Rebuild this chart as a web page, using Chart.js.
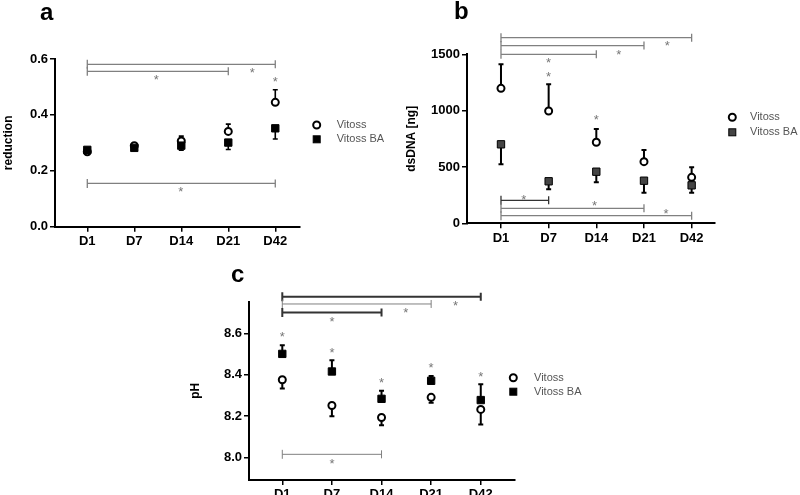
<!DOCTYPE html>
<html><head><meta charset="utf-8">
<script src="https://cdn.jsdelivr.net/npm/chart.js@4.4.0/dist/chart.umd.min.js"></script>
<style>
html,body{margin:0;padding:0;background:#fff;}
#wrap{position:relative;width:800px;height:495px;overflow:hidden;background:#fff;}
canvas{position:absolute;left:0;top:0;}
.lbl{position:absolute;font:bold 24px "Liberation Sans",Arial,sans-serif;line-height:24px;color:#000;}
</style></head><body>
<div id="wrap">
<canvas id="ca" width="800" height="495"></canvas>
<canvas id="cb" width="800" height="495"></canvas>
<canvas id="cc" width="800" height="495"></canvas>
<div class="lbl" style="left:40px;top:0px">a</div>
<div class="lbl" style="left:454px;top:-1px">b</div>
<div class="lbl" style="left:231px;top:262px">c</div>
</div>
<script>
const FONT = '"Liberation Sans", Arial, sans-serif';
const cats = ['D1','D7','D14','D21','D42'];
const xPos = [0,1,2,3,4];
const seriesNames = ['Vitoss','Vitoss BA'];

// Panel a : reduction
const aVitoss    = [0.268,0.290,0.307,0.341,0.445];
const aVitossErr = [0.000,0.004,0.017,0.026,0.045];
const aBA        = [0.275,0.282,0.290,0.301,0.352];
const aBAErr     = [0.000,0.003,0.016,0.025,0.038];
const aTicks     = [0,0.2,0.4,0.6];
const aBrackets  = [[0,4,0.581,'#808080'],[0,3,0.556,'#808080'],[0,4,0.155,'#808080']];
const aStars     = [[3.51,0.564],[1.47,0.538],[4,0.532],[1.99,0.138]];

// Panel b : dsDNA [ng]
const bVitoss    = [1198,997,719,547,408];
const bVitossErr = [213,237,118,104,89];
const bBA        = [701,373,458,378,337];
const bBAErr     = [177,71,94,106,65];
const bTicks     = [0,500,1000,1500];
const bBrackets  = [[0,4,1648,'#808080'],[0,3,1577,'#808080'],[0,2,1500,'#808080'],
                    [0,1,204,'#333333'],[0,3,133,'#808080'],[0,4,68,'#808080']];
const bStars     = [[3.49,1603],[2.47,1529],[1,1456],[1,1328],[2,946],[0.48,242],[1.96,183],[3.46,115]];

// Panel c : pH
const cVitoss    = [8.376,8.252,8.194,8.291,8.233];
const cVitossErr = [0.042,0.052,0.038,0.026,0.073];
const cBA        = [8.501,8.416,8.284,8.371,8.278];
const cBAErr     = [0.042,0.054,0.039,0.023,0.076];
const cTicks     = [8.0,8.2,8.4,8.6];
const cBrackets  = [[0,4,8.777,'#333333',2],[0,3,8.742,'#808080',1],[0,2,8.701,'#333333',2],[0,2,8.016,'#808080',1]];
const cStars     = [[0,8.600],[1,8.524],[2,8.378],[3,8.452],[4,8.405],[1,8.674],[3.49,8.748],[2.49,8.713],[1,7.987]];

const decor = {
  id: 'decor',
  beforeDatasetsDraw(chart, args, o) {
    const {ctx, scales:{x, y}} = chart;
    ctx.save();
    ctx.strokeStyle = '#000';
    ctx.lineWidth = o.errWidth;
    chart.data.datasets.forEach(ds => {
      ds.data.forEach((p, j) => {
        const e = ds.err[j]; if (!e) return;
        const px = x.getPixelForValue(p.x);
        const y0 = y.getPixelForValue(p.y), y1 = y.getPixelForValue(p.y + ds.errDir * e);
        ctx.beginPath();
        ctx.moveTo(px, y0); ctx.lineTo(px, y1);
        ctx.moveTo(px - 2.5, y1); ctx.lineTo(px + 2.5, y1);
        ctx.stroke();
      });
    });
    ctx.restore();
  },
  afterDraw(chart, args, o) {
    const {ctx, scales:{x, y}} = chart;
    ctx.save();
    o.brackets.forEach(b => {
      const x0 = x.getPixelForValue(b[0]), x1 = x.getPixelForValue(b[1]), py = y.getPixelForValue(b[2]);
      ctx.strokeStyle = b[3]; ctx.lineWidth = b[4] || 1.3;
      ctx.beginPath();
      ctx.moveTo(x0, py); ctx.lineTo(x1, py);
      ctx.moveTo(x0, py - 4.5); ctx.lineTo(x0, py + 4.5);
      ctx.moveTo(x1, py - 4); ctx.lineTo(x1, py + 4);
      ctx.stroke();
    });
    ctx.fillStyle = '#777';
    ctx.font = '13px ' + FONT;
    ctx.textAlign = 'center';
    ctx.textBaseline = 'alphabetic';
    o.stars.forEach(s => {
      ctx.fillText('*', x.getPixelForValue(s[0]), y.getPixelForValue(s[1]) + 7.5);
    });
    // legend
    const L = o.legend;
    ctx.lineWidth = 2; ctx.strokeStyle = '#000'; ctx.fillStyle = '#fff';
    ctx.beginPath(); ctx.arc(L.x, L.y1, 3.5, 0, Math.PI * 2); ctx.fill(); ctx.stroke();
    ctx.fillStyle = L.fill; ctx.lineWidth = 1;
    ctx.fillRect(L.x - 3.5, L.y2 - 3.5, 7, 7); ctx.strokeRect(L.x - 3.5, L.y2 - 3.5, 7, 7);
    ctx.fillStyle = '#555';
    ctx.font = '11px ' + FONT;
    ctx.textAlign = 'left'; ctx.textBaseline = 'middle';
    ctx.fillText(seriesNames[0], L.tx, L.y1);
    ctx.fillText(seriesNames[1], L.tx, L.y2);
    ctx.restore();
  }
};

function build(id, cfg) {
  const ds = (vals, err, dir, name, style) => Object.assign({
    label: name,
    data: xPos.map((v, i) => ({x: v, y: vals[i]})),
    err: err, errDir: dir, clip: false, showLine: false
  }, style);
  const circ = {pointStyle:'circle', pointRadius:3.5, backgroundColor:'#fff', borderColor:'#000', pointBorderWidth:2, order:1};
  const sq = {pointStyle:'rect', pointRadius:5.2, backgroundColor:cfg.sqFill, borderColor:'#000', pointBorderWidth:1, order:0};
  new Chart(document.getElementById(id), {
    type: 'scatter',
    data: { datasets: [
      ds(cfg.v, cfg.vErr, cfg.vDir, seriesNames[0], circ),
      ds(cfg.b, cfg.bErr, -cfg.vDir, seriesNames[1], sq)
    ]},
    plugins: [decor],
    options: {
      responsive: false, animation: false, devicePixelRatio: 1, events: [],
      layout: { padding: cfg.pad },
      plugins: {
        legend: {display: false}, tooltip: {enabled: false},
        decor: {errWidth: cfg.errW, brackets: cfg.brackets, stars: cfg.stars, legend: cfg.legend}
      },
      scales: {
        x: {
          type: 'linear', min: cfg.xmin, max: cfg.xmax,
          afterBuildTicks: s => { s.ticks = xPos.map(v => ({value: v})); },
          afterFit: s => { s.height = cfg.xH; },
          grid: {display: true, drawOnChartArea: false, drawTicks: true, tickLength: 5, color: '#000', lineWidth: 1.5},
          border: {display: true, color: '#000', width: 2},
          ticks: {color: '#000', font: {family: FONT, size: 13, weight: 'bold'}, padding: 2, maxRotation: 0, autoSkip: false,
                  callback: v => cats[Math.round(v)]}
        },
        y: {
          type: 'linear', min: cfg.ymin, max: cfg.ymax,
          afterBuildTicks: s => { s.ticks = cfg.yticks.map(v => ({value: v})); },
          afterFit: s => { s.width = cfg.yW; },
          grid: {display: true, drawOnChartArea: false, drawTicks: true, tickLength: 5, color: '#000', lineWidth: 1.5},
          border: {display: true, color: '#000', width: 2},
          title: {display: true, text: cfg.ytitle, color: '#000', padding: {top: 0, bottom: 0},
                  font: {family: FONT, size: 12, weight: 'bold'}},
          ticks: {color: '#000', font: {family: FONT, size: 13, weight: 'bold'}, padding: 2,
                  callback: cfg.fmt}
        }
      }
    }
  });
}

build('ca', {
  v: aVitoss, vErr: aVitossErr, b: aBA, bErr: aBAErr, vDir: 1, sqFill: '#000',
  xmin: -0.687, xmax: 4.526, ymin: 0, ymax: 0.6, yticks: aTicks, ytitle: 'reduction',
  yW: 53.2, xH: 30, pad: {left: 1.8, top: 59, right: 500, bottom: 238.3}, errW: 1.6,
  fmt: v => v.toFixed(1), brackets: aBrackets, stars: aStars,
  legend: {x: 316.7, y1: 125, y2: 139.3, tx: 336.7, fill: '#000'}
});
build('cb', {
  v: bVitoss, vErr: bVitossErr, b: bBA, bErr: bBAErr, vDir: 1, sqFill: '#444',
  xmin: -0.713, xmax: 4.49, ymin: 0, ymax: 1500, yticks: bTicks, ytitle: 'dsDNA [ng]',
  yW: 62.7, xH: 30, pad: {left: 404.3, top: 54.3, right: 85, bottom: 241.7}, errW: 2,
  fmt: v => String(v), brackets: bBrackets, stars: bStars,
  legend: {x: 732.3, y1: 117.3, y2: 132.3, tx: 750, fill: '#444'}
});
build('cc', {
  v: cVitoss, vErr: cVitossErr, b: cBA, bErr: cBAErr, vDir: -1, sqFill: '#000',
  xmin: -0.671, xmax: 4.69, ymin: 7.892, ymax: 8.753, yticks: cTicks, ytitle: 'pH',
  yW: 60.2, xH: 15, pad: {left: 188.8, top: 301.7, right: 285, bottom: 0}, errW: 2,
  fmt: v => v.toFixed(1), brackets: cBrackets, stars: cStars,
  legend: {x: 513.3, y1: 377.7, y2: 391.7, tx: 534, fill: '#000'}
});
</script>
</body></html>
